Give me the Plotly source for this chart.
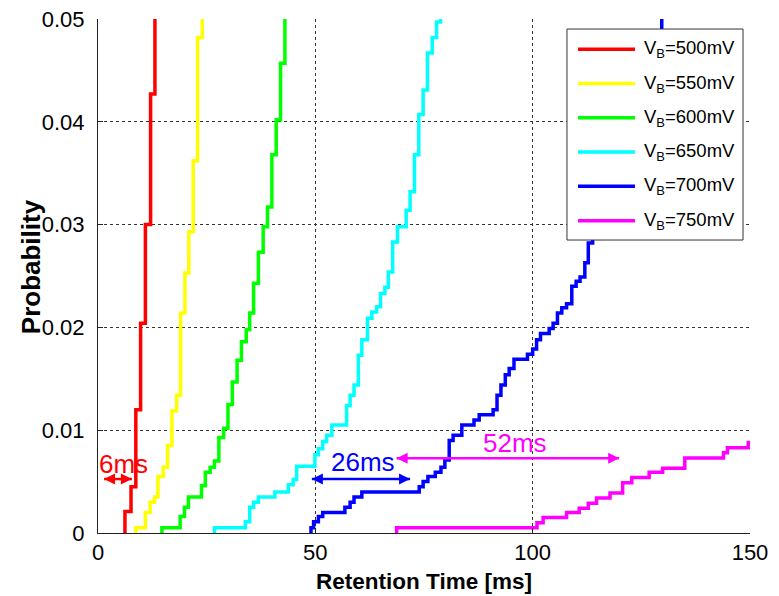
import plotly.graph_objects as go

# Bias voltages and their trace colours
voltages_mV = [500, 550, 600, 650, 700, 750]
colors = ["#ff0000", "#ffff00", "#00ff00", "#00ffff", "#0000ff", "#ff00ff"]

# Empirical CDFs: retention time (ms) at each step and the cumulative
# failure probability reached at that step.
t_500 = [6.2, 7.6, 8.7, 9.8, 10.9, 12.1, 13.1]
p_500 = [0.0021, 0.0045, 0.0120, 0.0204, 0.0300, 0.0427, 0.0520]

t_550 = [8.7, 10.9, 12.0, 13.0, 13.8, 15.0, 16.0, 17.0, 18.1, 19.0, 20.0,
         20.9, 21.9, 22.9, 24.0]
p_550 = [0.0005, 0.0020, 0.0030, 0.0035, 0.0055, 0.0064, 0.0085, 0.0119,
         0.0134, 0.0214, 0.0253, 0.0293, 0.0362, 0.0482, 0.0520]

t_600 = [14.7, 18.9, 19.9, 20.8, 23.8, 24.7, 25.8, 26.8, 27.8, 28.9, 29.9,
         30.9, 32.0, 33.0, 34.1, 34.9, 35.8, 36.9, 38.0, 39.0, 40.0, 41.0,
         42.0, 43.0]
p_600 = [0.0005, 0.0016, 0.0025, 0.0035, 0.0046, 0.0059, 0.0064, 0.0070,
         0.0093, 0.0102, 0.0125, 0.0147, 0.0168, 0.0186, 0.0198, 0.0214,
         0.0243, 0.0273, 0.0298, 0.0317, 0.0368, 0.0402, 0.0457, 0.0520]

t_650 = [26.8, 33.9, 34.9, 35.8, 36.9, 40.7, 43.8, 44.9, 45.7, 49.9, 50.7,
         51.7, 52.6, 53.8, 57.2, 58.0, 58.9, 59.9, 60.7, 62.0, 63.0, 64.1,
         65.0, 66.0, 66.8, 67.8, 68.9, 70.9, 71.8, 72.8, 73.8, 74.8, 75.8,
         76.9, 77.9, 78.8]
p_650 = [0.0005, 0.0011, 0.0025, 0.0030, 0.0035, 0.0040, 0.0047, 0.0052,
         0.0065, 0.0076, 0.0082, 0.0089, 0.0095, 0.0105, 0.0124, 0.0134,
         0.0144, 0.0173, 0.0188, 0.0209, 0.0215, 0.0220, 0.0233, 0.0239,
         0.0254, 0.0283, 0.0298, 0.0314, 0.0332, 0.0368, 0.0407, 0.0431,
         0.0467, 0.0482, 0.0497, 0.0520]

t_700 = [49.0, 49.6, 50.7, 51.7, 56.8, 58.0, 58.9, 60.7, 73.9, 74.8, 75.9,
         77.6, 78.9, 79.8, 80.8, 81.7, 83.7, 86.5, 87.7, 90.9, 91.8, 92.7,
         93.7, 94.6, 95.7, 98.8, 100.0, 100.9, 101.8, 103.8, 104.7, 105.7,
         106.7, 107.8, 109.0, 110.0, 110.9, 112.0, 112.8, 113.8, 114.8,
         115.7, 116.9, 117.8, 118.9, 119.9, 120.8, 121.9, 122.8, 123.8,
         124.9, 125.8, 126.8, 127.9, 128.8, 129.7]
p_700 = [0.0005, 0.0011, 0.0016, 0.0020, 0.0025, 0.0030, 0.0035, 0.0040,
         0.0045, 0.0050, 0.0055, 0.0059, 0.0064, 0.0071, 0.0090, 0.0095,
         0.0105, 0.0110, 0.0115, 0.0120, 0.0134, 0.0144, 0.0154, 0.0160,
         0.0169, 0.0174, 0.0179, 0.0188, 0.0194, 0.0199, 0.0204, 0.0214,
         0.0219, 0.0223, 0.0240, 0.0245, 0.0249, 0.0263, 0.0282, 0.0290,
         0.0300, 0.0309, 0.0324, 0.0334, 0.0348, 0.0358, 0.0373, 0.0382,
         0.0397, 0.0411, 0.0421, 0.0436, 0.0450, 0.0465, 0.0480, 0.0520]

t_750 = [68.7, 101.0, 102.4, 107.8, 110.7, 112.8, 114.7, 117.8, 120.7,
         122.8, 126.8, 129.9, 135.0, 143.9, 144.8, 149.6, 150.0]
p_750 = [0.0005, 0.0010, 0.0015, 0.0020, 0.0024, 0.0029, 0.0034, 0.0039,
         0.0049, 0.0054, 0.0059, 0.0063, 0.0073, 0.0078, 0.0083, 0.0088,
         0.0088]

times = [t_500, t_550, t_600, t_650, t_700, t_750]
probs = [p_500, p_550, p_600, p_650, p_700, p_750]

# Retention-time spread markers (double-headed arrows with a label)
spread_from = [1.4, 49.2, 68.7]
spread_to = [7.8, 71.8, 119.9]
spread_level = [0.00525, 0.00525, 0.00727]
spread_text = ["6ms", "26ms", "52ms"]
spread_text_x = [5.9, 60.9, 95.9]
spread_text_y = [0.0067, 0.0069, 0.00875]
spread_color = [0, 4, 5]

x_ticks = [0, 50, 100, 150]
y_ticks = [0, 0.01, 0.02, 0.03, 0.04, 0.05]
y_tick_labels = ["0", "0.01", "0.02", "0.03", "0.04", "0.05"]

FONT = "Liberation Sans, Arial, Helvetica, sans-serif"

fig = go.Figure()
for v, c, t, p in zip(voltages_mV, colors, times, probs):
    fig.add_trace(go.Scatter(
        x=[t[0]] + t, y=[0] + p, mode="lines",
        line=dict(color=c, width=3.5, shape="hv"),
        name=f"V<sub>B</sub>={v}mV", showlegend=False, hoverinfo="skip",
    ))

annotations = []
for a, b, lvl, txt, tx, ty, ci in zip(spread_from, spread_to, spread_level,
                                      spread_text, spread_text_x,
                                      spread_text_y, spread_color):
    fig.add_trace(go.Scatter(
        x=[a, b], y=[lvl, lvl], mode="lines+markers",
        line=dict(color=colors[ci], width=2.5),
        marker=dict(symbol=["arrow-left", "arrow-right"], size=11,
                    color=colors[ci], line=dict(width=0)),
        showlegend=False, hoverinfo="skip",
    ))
    annotations.append(dict(
        x=tx, y=ty, xref="x", yref="y", text=txt, showarrow=False,
        font=dict(family=FONT, size=26, color=colors[ci]),
        xanchor="center", yanchor="middle",
    ))

# Y-axis title, placed by hand so it can sit close to the tick labels
annotations.append(dict(
    x=-0.1028, y=0.519, xref="paper", yref="paper",
    text="<b>Probability</b>", textangle=-90, showarrow=False,
    xanchor="center", yanchor="middle",
    font=dict(family=FONT, size=26, color="black"),
))

# Legend box drawn on top of the data
shapes = [dict(type="rect", xref="paper", yref="paper",
               x0=0.7193, x1=0.9893, y0=0.570, y1=0.9805,
               fillcolor="white", line=dict(color="#333333", width=1),
               layer="above")]
row_top, row_step = 0.9412, 0.0667
for i, (v, c) in enumerate(zip(voltages_mV, colors)):
    yy = row_top - i * row_step
    shapes.append(dict(type="line", xref="paper", yref="paper",
                       x0=0.7362, x1=0.8236, y0=yy, y1=yy,
                       line=dict(color=c, width=3.5), layer="above"))
    annotations.append(dict(
        x=0.8344, y=yy, xref="paper", yref="paper",
        text=f"V<sub>B</sub>={v}mV", showarrow=False,
        xanchor="left", yanchor="middle",
        font=dict(family=FONT, size=18.5, color="black"),
    ))

fig.update_layout(
    width=779, height=596,
    margin=dict(l=98, r=29, t=19, b=63, autoexpand=False),
    paper_bgcolor="white", plot_bgcolor="white",
    font=dict(family=FONT, size=22, color="black"),
    showlegend=False,
    shapes=shapes, annotations=annotations,
)
axis_common = dict(
    showgrid=True, gridcolor="#333333", griddash="dot", gridwidth=1,
    showline=True, linecolor="#222222", linewidth=1, mirror=False,
    ticks="inside", ticklen=5, tickcolor="#222222", zeroline=False,
    tickfont=dict(family=FONT, size=22, color="black"),
    automargin=False,
)
fig.update_xaxes(
    range=[0, 150], tickvals=x_ticks, **axis_common,
    title=dict(text="<b>Retention Time [ms]</b>",
               font=dict(family=FONT, size=22.5, color="black"), standoff=8),
)
fig.update_yaxes(
    range=[0, 0.05], tickvals=y_ticks, ticktext=y_tick_labels, **axis_common,
    ticklabelstandoff=8,
)

fig.write_html("out.html")
